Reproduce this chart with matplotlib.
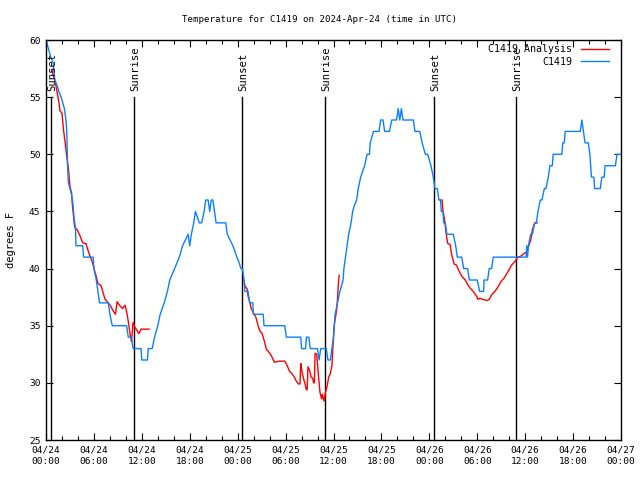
import matplotlib
matplotlib.use("Agg")
import matplotlib.pyplot as plt
import numpy as np
from matplotlib.ticker import MultipleLocator, FixedLocator

# hours since 2024-04-24 00:00 UTC
blue_h = [0.0, 0.2, 0.4, 0.6, 0.9, 1.1, 1.4, 1.6, 1.9, 2.1, 2.3, 2.5, 2.6, 2.7, 2.8, 3.0, 3.2, 3.4, 3.5, 3.7,
          3.75, 4.6, 4.7, 5.9, 6.0, 6.3, 6.5, 6.7, 7.8, 8.0, 8.3, 10.1, 10.3, 10.7, 10.9, 11.9, 12.0, 12.7,
          12.8, 13.3, 13.6, 14.0, 14.3, 14.8, 15.2, 15.5, 16.1, 16.7, 17.1, 17.8, 18.0, 18.2, 18.5, 18.7,
          19.2, 19.5, 19.8, 20.0, 20.3, 20.5, 20.7, 20.9, 21.3, 22.5, 22.7, 23.4, 23.9, 24.2, 24.4, 24.6,
          24.8, 24.9, 25.3, 25.5, 25.9, 25.95, 27.2, 27.3, 29.9, 30.1, 31.9, 32.0, 32.5, 32.6, 32.9, 33.1,
          34.0, 34.2, 34.4, 35.1, 35.3, 35.6, 35.8, 36.0, 36.2, 36.5, 36.8, 37.2, 37.3, 37.5, 37.7, 37.9,
          38.2, 38.4, 38.6, 38.9, 39.1, 39.4, 39.9, 40.2, 40.5, 40.6, 41.0, 41.7, 41.9, 42.2, 42.4, 43.0,
          43.3, 43.9, 44.1, 44.3, 44.5, 44.7, 45.0, 46.0, 46.2, 46.8, 47.1, 47.5, 47.8, 48.0, 48.2, 48.5,
          48.7, 49.0, 49.2, 49.4, 49.5, 49.7, 49.8, 50.0, 50.2, 51.0, 51.3, 51.5, 52.05, 52.3, 52.8, 53.0,
          54.0, 54.3, 54.8, 54.85, 55.3, 55.5, 55.8, 56.0, 60.1, 60.2, 60.3, 60.4, 60.7, 60.9, 61.2, 61.4,
          61.6, 61.9, 62.1, 62.4, 62.6, 62.9, 63.1, 63.4, 63.5, 64.6, 64.7, 64.9, 65.0, 66.9, 67.1, 67.3,
          67.5, 67.9, 68.1, 68.3, 68.6, 68.7, 69.4, 69.6, 69.9, 70.0, 71.3, 71.5, 72.0]
blue_t = [60, 59.5, 59, 58.5, 58, 56.5, 56, 55.5, 55, 54.5, 54, 53, 52, 49, 47.5, 47, 46.5, 45.5, 44.5, 43.5,
          42, 42, 41, 41, 40, 39, 38, 37, 37, 36, 35, 35, 34, 34, 33, 33, 32, 32,
          33, 33, 34, 35, 36, 37, 38, 39, 40, 41, 42, 43, 42, 43, 44, 45,
          44, 44, 45, 46, 46, 45, 46, 46, 44, 44, 43, 42, 41, 40.5, 40, 40,
          39, 38, 38, 37, 37, 36, 36, 35, 35, 34, 34, 33, 33, 34, 34, 33,
          33, 32, 33, 33, 32, 32, 33, 34, 36, 37, 38, 39, 40, 41, 42, 43,
          44, 45, 45.5, 46, 47, 48, 49, 50, 50, 51, 52, 52, 53, 53, 52, 52,
          53, 53, 54, 53, 54, 53, 53, 53, 52, 52, 51, 50, 50, 49.5, 49, 48,
          47, 47, 46, 46, 45, 45, 44, 44, 43, 43, 42, 41, 41, 40, 40, 39,
          39, 38, 38, 39, 39, 40, 40, 41, 41, 42, 41, 42, 43, 43, 44, 44,
          45, 46, 46, 47, 47, 48, 49, 49, 50, 50, 51, 51, 52, 52, 53, 52,
          51, 51, 50, 48, 48, 47, 47, 48, 48, 49, 49, 50, 50]

red1_h = [0.7, 1.1, 1.35, 1.6, 1.75, 2.0, 2.2, 2.4, 2.6, 2.8, 3.0, 3.2, 3.3, 3.5, 3.6, 3.9, 4.1, 4.3, 4.5,
          4.7, 5.0, 5.3, 5.5, 5.8, 6.0, 6.3, 6.5, 6.9, 7.1, 7.4, 7.8, 8.1, 8.4, 8.7, 8.9, 9.2, 9.6, 9.9,
          10.1, 10.3, 10.5, 10.7, 10.9, 11.1, 11.4, 11.6, 11.9, 12.9]
red1_t = [57.4, 56.5, 55.6, 54.6, 53.8, 53.6, 52.1, 51.0, 49.8, 48.8, 47.2, 46.6, 45.6, 44.2, 43.6, 43.4,
          43.1, 42.8, 42.4, 42.2, 42.2, 41.5, 41.1, 40.6, 40.0, 39.3, 38.7, 38.5, 38.0, 37.3, 37.0, 36.7,
          36.3, 36.0, 37.1, 36.8, 36.5, 36.8, 36.2, 35.4, 34.4, 33.6, 35.3, 34.9, 34.6, 34.3, 34.7, 34.7]

red2_h = [24.8, 24.9, 25.2, 25.3, 25.5, 25.7, 26.0, 26.3, 26.6, 26.8, 27.0, 27.2, 27.4, 27.6, 27.8, 28.2,
          28.6, 29.2, 29.9, 30.2, 30.5, 30.8, 31.1, 31.3, 31.6, 31.8, 31.9, 32.0, 32.2, 32.4, 32.6, 32.7,
          32.8, 33.0, 33.2, 33.4, 33.5, 33.6, 33.7, 33.9, 34.1, 34.3, 34.5, 34.6, 34.8, 35.0, 35.2, 35.4,
          35.6, 35.8, 35.9, 36.1, 36.4, 36.5, 36.6, 36.7]
red2_t = [39.0, 38.5, 38.2, 37.6, 37.1, 36.5, 36.1, 35.7, 34.9, 34.5, 34.4, 34.0, 33.5, 32.9, 32.8, 32.4,
          31.8, 31.9, 31.9, 31.5, 31.0, 30.8, 30.5, 30.2, 29.9, 29.9, 31.7, 31.2, 30.5, 30.0, 29.4, 29.4,
          31.4, 31.1, 30.5, 30.4, 30.0, 30.0, 32.6, 32.5, 30.8, 29.2, 28.6, 29.0, 28.4, 29.2, 29.7, 30.5,
          30.8, 31.5, 32.8, 35.1, 36.4, 37.3, 38.6, 39.4]

red3_h = [49.4, 49.6, 49.7, 49.9, 50.1, 50.3, 50.6, 50.8, 51.1, 51.4, 51.7, 52.1, 52.5, 52.8, 53.1, 53.5,
          53.9, 54.1, 54.3, 54.7, 55.2, 55.5, 55.8, 56.2, 56.6, 57.0, 57.4, 57.9, 58.3, 58.7, 59.1, 59.5,
          60.0, 60.2, 60.5, 60.7, 60.9, 61.2, 61.5]
red3_t = [46.0, 46.0, 45.1, 44.3, 43.1, 42.2, 42.1, 41.2, 40.4, 40.3, 39.8, 39.3, 39.0, 38.6, 38.3, 38.0,
          37.6, 37.3, 37.4, 37.3, 37.2, 37.3, 37.7, 38.0, 38.4, 38.9, 39.2, 39.8, 40.3, 40.6, 41.0, 41.1,
          41.4, 41.4, 42.1, 42.5, 43.4, 44.0, 44.0]

sun_h = [0.63, 11.0, 24.6, 34.9, 48.6, 58.9]
sun_labels = ["Sunset", "Sunrise", "Sunset", "Sunrise", "Sunset", "Sunrise"]

xtick_h = [0, 6, 12, 18, 24, 30, 36, 42, 48, 54, 60, 66, 72]
xtick_labels = ["04/24\n00:00", "04/24\n06:00", "04/24\n12:00", "04/24\n18:00",
                "04/25\n00:00", "04/25\n06:00", "04/25\n12:00", "04/25\n18:00",
                "04/26\n00:00", "04/26\n06:00", "04/26\n12:00", "04/26\n18:00",
                "04/27\n00:00"]

RED = "#ff0000"
BLUE = "#0a80ff"
MONO = "DejaVu Sans Mono"
FS = 6.8

fig = plt.figure(figsize=(6.4, 4.8), dpi=100)
ax = fig.add_axes([46/640, 1-440/480, (621-46)/640, 400/480])

for h, lab in zip(sun_h, sun_labels):
    ax.plot([h, h], [25, 55], color="black", lw=1.0, zorder=1)
    ax.text(h + 0.15, 55.5, lab, rotation=90, ha="center", va="bottom",
            fontsize=7.6, family=MONO, zorder=3)

ax.plot(red1_h, red1_t, color=RED, lw=1.0, label="C1419 Analysis", zorder=2)
ax.plot(red2_h, red2_t, color=RED, lw=1.0, zorder=2)
ax.plot(red3_h, red3_t, color=RED, lw=1.0, zorder=2)
ax.plot(blue_h, blue_t, color=BLUE, lw=1.0, label="C1419", zorder=2)

ax.set_xlim(0, 72)
ax.set_ylim(25, 60)
ax.xaxis.set_major_locator(FixedLocator(xtick_h))
ax.set_xticklabels(xtick_labels, family=MONO, fontsize=FS, linespacing=1.3)
ax.xaxis.set_minor_locator(MultipleLocator(2))
ax.yaxis.set_major_locator(MultipleLocator(5))
for lab in ax.get_yticklabels():
    lab.set_family(MONO)
    lab.set_fontsize(FS)
ax.tick_params(axis="both", which="major", direction="in", length=5, width=0.8,
               top=True, right=True, labelsize=FS, pad=4)
ax.tick_params(axis="x", which="minor", direction="in", length=3, width=0.8, top=True)
for sp in ax.spines.values():
    sp.set_linewidth(1.0)

ax.set_ylabel("degrees F", family=MONO, fontsize=7.5, labelpad=9)
fig.text(0.5, 1 - 20/480, "Temperature for C1419 on 2024-Apr-24 (time in UTC)", family=MONO,
         fontsize=6.6, ha="center", va="center")

leg = ax.legend(loc="upper right", bbox_to_anchor=(1 - 8/575, 1.0), frameon=False,
                markerfirst=False, handlelength=2.8,
                prop={"family": MONO, "size": 7.2}, borderaxespad=0.15, labelspacing=0.25,
                handletextpad=0.8, borderpad=0.3)
for t in leg.get_texts():
    t.set_ha("right")

fig.savefig("out.png", dpi=100)
